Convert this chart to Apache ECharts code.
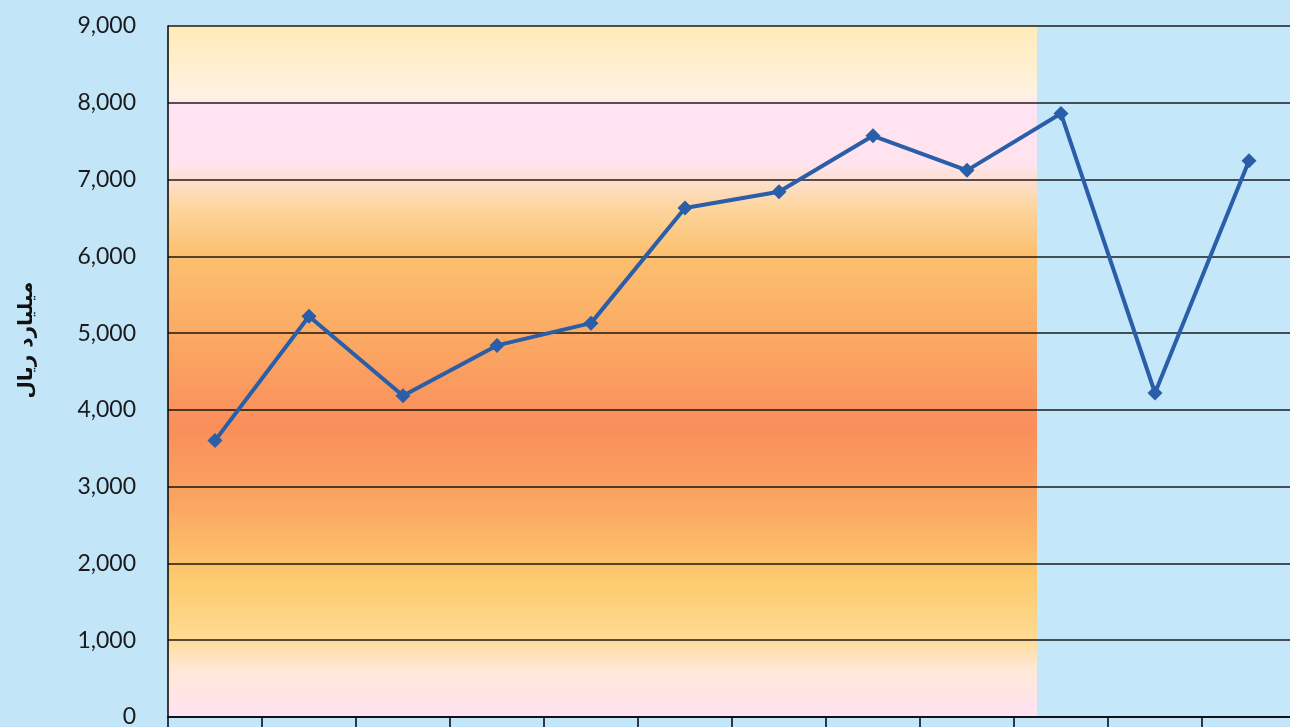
<!DOCTYPE html>
<html>
<head>
<meta charset="utf-8">
<script src="https://cdn.jsdelivr.net/npm/echarts@6/dist/echarts.min.js"></script>
<style>
html,body{margin:0;padding:0;background:#c2e5f7;}
#c{width:1290px;height:727px;}
</style>
</head>
<body>
<div id="c"></div>
<script>
var categories = ['1','2','3','4','5','6','7','8','9','10','11','12'];
var values = [3600, 5220, 4185, 4840, 5130, 6630, 6840, 7570, 7120, 7860, 4220, 7245];
var yTicks = {min: 0, max: 9000, interval: 1000};
var yName = 'میلیارد ریال';

var chart = echarts.init(document.getElementById('c'));
var G = {left: 168, top: 26, width: 1128, height: 691};
chart.setOption({
  backgroundColor: '#c2e5f7',
  animation: false,
  grid: {left: G.left, top: G.top, width: G.width, height: G.height, containLabel: false, outerBoundsMode: 'none'},
  graphic: [
    {type: 'rect', z: -10, shape: {x: G.left, y: G.top, width: 869, height: G.height},
     style: {fill: new echarts.graphic.LinearGradient(0, 0, 0, 1, [
       {offset: 0, color: '#ffebb8'},
       {offset: 0.1, color: '#fff2e2'},
       {offset: 0.115, color: '#ffe3f3'},
       {offset: 0.2, color: '#ffe4ee'},
       {offset: 0.26, color: '#fdd6a0'},
       {offset: 0.33, color: '#fcc070'},
       {offset: 0.45, color: '#fba963'},
       {offset: 0.58, color: '#f98e5b'},
       {offset: 0.7, color: '#fba862'},
       {offset: 0.8, color: '#fdca6e'},
       {offset: 0.88, color: '#fed98e'},
       {offset: 0.93, color: '#ffe8d6'},
       {offset: 1, color: '#ffe2f3'}
     ])}},
    {type: 'rect', z: -10, shape: {x: G.left + 869, y: G.top, width: G.width - 869, height: G.height},
     style: {fill: '#c4e7fa'}},
    {type: 'text', x: 27, y: 340, rotation: Math.PI / 2,
     style: {text: yName, fontFamily: 'DejaVu Sans', fontWeight: 'bold', fontSize: 20,
             fill: '#111', align: 'center', verticalAlign: 'middle'}}
  ],
  xAxis: {
    type: 'category',
    data: categories,
    boundaryGap: true,
    axisLine: {show: true, lineStyle: {color: '#000', width: 1.5}},
    axisTick: {show: true, length: 12, lineStyle: {color: '#000', width: 1.5}},
    axisLabel: {show: false},
    splitLine: {show: false}
  },
  yAxis: {
    type: 'value',
    min: yTicks.min, max: yTicks.max, interval: yTicks.interval,
    axisLine: {show: true, lineStyle: {color: '#000', width: 1.5}},
    axisTick: {show: false},
    axisLabel: {
      margin: 32, fontSize: 23, color: '#1a1a1a', fontFamily: 'Lato',
      formatter: function (v) { return v.toLocaleString('en-US'); }
    },
    splitLine: {show: true, lineStyle: {color: 'rgba(0,0,0,0.88)', width: 1.5}}
  },
  series: [{
    type: 'line',
    data: values,
    symbol: 'diamond',
    symbolSize: 15,
    lineStyle: {color: '#2a5ea8', width: 4},
    itemStyle: {color: '#2a5ea8'},
    z: 5
  }]
});
</script>
</body>
</html>
